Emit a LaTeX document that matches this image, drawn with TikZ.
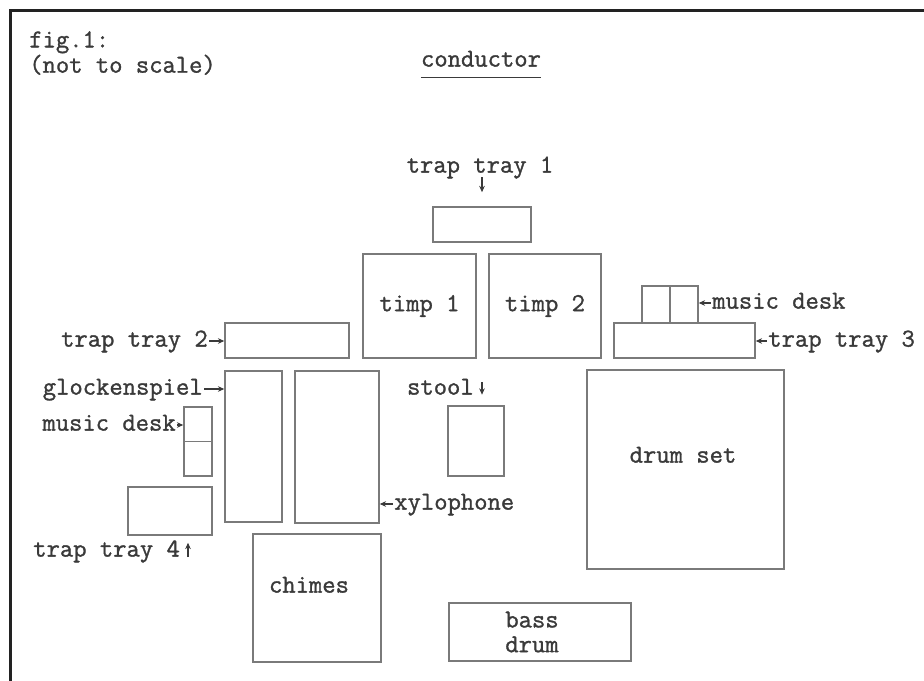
\documentclass[tikz,border=0pt]{standalone}
\usepackage{fontspec}
\newfontfamily\labelfont[FakeBold=1.2]{Latin Modern Mono}
\usepackage{xcolor}
\definecolor{inkGray}{HTML}{3A3A3A}
\definecolor{boxGray}{HTML}{7A7A7A}
\definecolor{frameBlack}{HTML}{222222}
\usetikzlibrary{arrows.meta, positioning, calc}
\newlength{\pxu}
\setlength{\pxu}{0.025cm}

\begin{document}
\begin{tikzpicture}[
        x=0.025cm, y=-0.025cm,
        stageBox/.style 2 args={
            draw=boxGray,
            line width=1.1pt,
            inner sep=0pt,
            minimum width=#1*\pxu,
            minimum height=#2*\pxu,
            font=\labelfont\fontsize{18.4}{18}\selectfont,
            text=inkGray
        },
        lbl/.style={
            font=\labelfont\fontsize{18.4}{18}\selectfont,
            text=inkGray,
            inner sep=0pt,
            text height=11pt,
            text depth=3pt
        },
        multiLbl/.style={
            font=\labelfont\fontsize{18.4}{18}\selectfont,
            text=inkGray,
            inner sep=0pt
        },
        ptr/.style={
            -{Stealth[length=4.5pt,width=4pt]},
            line width=0.8pt,
            draw=inkGray
        },
        boxLine/.style={draw=boxGray, line width=1.1pt},
        framePen/.style={draw=frameBlack, line width=2.2pt}
    ]
    \useasboundingbox (0,0) rectangle (924,681);
    \draw[framePen] (10.5,681) -- (10.5,10.5) -- (924,10.5);

    % header
    \node[multiLbl, align=left, anchor=north west, font=\labelfont\fontsize{18.4}{15.6}\selectfont] (fig) at (29,31) {fig.1:\\(not to scale)};
    \node[lbl] (cond) at (481,61) {conductor};
    \draw[draw=inkGray, line width=0.8pt] ([yshift=-8pt]cond.base west) -- ([yshift=-8pt]cond.base east);

    % instruments
    \node[stageBox={98}{35}] (tray1) at (482,224.5) {};
    \node[stageBox={113}{104}] (timp1) at (419.5,306) {timp 1};
    \node[stageBox={112}{104}] (timp2) at (545,306) {timp 2};
    \node[stageBox={124}{35}] (tray2) at (287,340.5) {};
    \node[stageBox={57}{151}] (glock) at (253.5,446.5) {};
    \node[stageBox={84}{152}] (xylo) at (337,447) {};
    \node[stageBox={28}{69}] (deskL) at (198,441.5) {};
    \draw[boxLine] (deskL.west) -- (deskL.east);
    \node[stageBox={84}{48}] (tray4) at (170,511) {};
    \node[stageBox={56}{70}] (stool) at (476,441) {};
    \node[stageBox={128}{128}] (chimes) at (317,598) {};
    \node[stageBox={182}{58}] (bass) at (540,632) {};
    \node[stageBox={197}{199}] (drums) at (685.5,469.5) {};
    \node[stageBox={56}{37}] (deskR) at (670,304.5) {};
    \draw[boxLine] (deskR.north) -- (deskR.south);
    \node[stageBox={141}{35}] (tray3) at (684.5,340.5) {};

    % texts inside boxes
    \node[lbl] (chimesTxt) at (309,587) {chimes};
    \node[multiLbl, align=center, font=\labelfont\fontsize{18.4}{17.6}\selectfont] (bassTxt) at (532,632) {bass\\drum};
    \node[lbl] (drumsTxt) at (683,457) {drum set};

    % labels and pointers
    \node[lbl] (tray1Lbl) at (480,167) {trap tray 1};
    \draw[ptr, shorten >=10pt] (tray1Lbl.south -| tray1.north) -- (tray1.north);

    \node[lbl, anchor=east] (tray2Lbl) at (208,341) {trap tray 2};
    \draw[ptr] ([xshift=1pt]tray2Lbl.east) -- (tray2Lbl.east -| tray2.west);

    \node[lbl, anchor=east] (glockLbl) at (203,389) {glockenspiel};
    \draw[ptr] ([xshift=1pt]glockLbl.east) -- (glockLbl.east -| glock.west);

    \node[lbl, anchor=east] (deskLLbl) at (176,425) {music desk};
    \draw[ptr] ([xshift=1pt]deskLLbl.east) -- (deskLLbl.east -| deskL.west);

    \node[lbl, anchor=west] (tray4Lbl) at (33,551) {trap tray 4};
    \coordinate (tray4Arr) at (188,557);
    \draw[ptr, shorten >=5pt] (tray4Arr) -- (tray4Arr |- tray4.south);

    \node[lbl, anchor=east] (stoolLbl) at (474,389) {stool};
    \coordinate (stoolArr) at (482,382);
    \draw[ptr, shorten >=7.5pt] (stoolArr) -- (stoolArr |- stool.north);

    \node[lbl, anchor=west] (xyloLbl) at (394,504) {xylophone};
    \draw[ptr] ([xshift=-1pt]xyloLbl.west) -- (xyloLbl.west -| xylo.east);

    \node[lbl, anchor=west] (deskRLbl) at (712,303) {music desk};
    \draw[ptr] ([xshift=-1pt]deskRLbl.west) -- (deskRLbl.west -| deskR.east);

    \node[lbl, anchor=west] (tray3Lbl) at (768,341) {trap tray 3};
    \draw[ptr] ([xshift=-1pt]tray3Lbl.west) -- (tray3Lbl.west -| tray3.east);
\end{tikzpicture}
\end{document}
